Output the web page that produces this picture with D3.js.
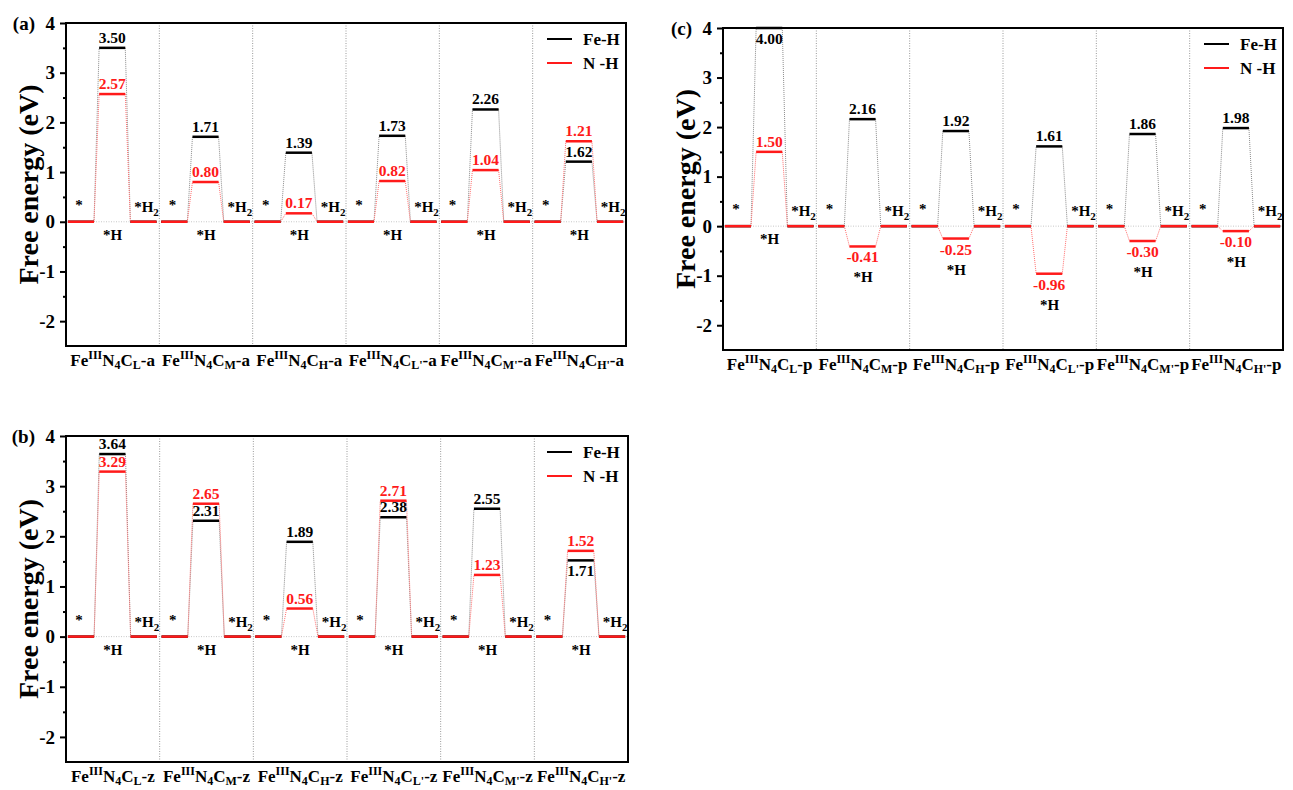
<!DOCTYPE html>
<html>
<head>
<meta charset="utf-8">
<script src="https://cdnjs.cloudflare.com/ajax/libs/d3/7.8.5/d3.min.js"></script>
<style>
  body { margin: 0; background: #fff; }
  svg { display: block; }
</style>
</head>
<body>
<div id="chart"></div>
<script>
// subscript of C in the category names, same for every panel
const sites = ["L", "M", "H", "L'", "M'", "H'"];
const yTicks = [-2, -1, 0, 1, 2, 3, 4];
const yMinorTicks = [-1.5, -0.5, 0.5, 1.5, 2.5, 3.5];

// (a) level heights as drawn, and the numbers printed over them
const feH_a = [3.50, 1.71, 1.39, 1.73, 2.26, 1.21];
const nH_a = [2.57, 0.80, 0.17, 0.82, 1.04, 1.62];
const feH_a_text = ["3.50", "1.71", "1.39", "1.73", "2.26", "1.62"];
const nH_a_text = ["2.57", "0.80", "0.17", "0.82", "1.04", "1.21"];

// (b)
const feH_b = [3.64, 2.31, 1.89, 2.38, 2.55, 1.52];
const nH_b = [3.29, 2.65, 0.56, 2.71, 1.23, 1.71];
const feH_b_text = ["3.64", "2.31", "1.89", "2.38", "2.55", "1.71"];
const nH_b_text = ["3.29", "2.65", "0.56", "2.71", "1.23", "1.52"];

// (c)
const feH_c = [4.00, 2.16, 1.92, 1.61, 1.86, 1.98];
const nH_c = [1.50, -0.41, -0.25, -0.96, -0.30, -0.10];
const feH_c_text = ["4.00", "2.16", "1.92", "1.61", "1.86", "1.98"];
const nH_c_text = ["1.50", "-0.41", "-0.25", "-0.96", "-0.30", "-0.10"];

const FONT = "'Liberation Serif', 'Times New Roman', serif";
const RED = "#ff1a1a";

class EnergyPanel {

    constructor(opts) {
        this.svg = opts.svg;
        this.box = opts.box;
        this.name = opts.name;
        this.suffix = opts.suffix;
        this.series = opts.series;
        this.update();
    }

    _setScales() {
        this.xScale = d3.scaleLinear().domain([0, sites.length]).range([this.box.left, this.box.right]);
        this.yScale = d3.scaleLinear().domain([-2.5, 4]).range([this.box.bottom, this.box.top]);

        // three states per category: *, *H, *H2 (fraction of the category width)
        this.spans = [[0.02, 0.30], [0.355, 0.635], [0.69, 0.97]];
    }

    update() {
        this._setScales();
        this.draw();
    }

    draw() {
        let x = this.xScale, y = this.yScale, b = this.box;
        this.plot = this.svg.append("g").attr("class", "panel-" + this.name);

        // zero reference and category dividers
        this.plot.append("line")
            .attr("x1", b.left).attr("x2", b.right)
            .attr("y1", y(0)).attr("y2", y(0))
            .attr("stroke", "#c8c8c8").attr("stroke-width", 1)
            .attr("stroke-dasharray", "1,1.5");

        this.plot.selectAll(".divider")
            .data(d3.range(1, sites.length))
            .enter().append("line")
            .attr("class", "divider")
            .attr("x1", d => x(d)).attr("x2", d => x(d))
            .attr("y1", b.top).attr("y2", b.bottom)
            .attr("stroke", "#9a9a9a").attr("stroke-width", 1)
            .attr("stroke-dasharray", "1,1.5");

        this.series.forEach(s => this.drawSeries(s));
        this.drawLabels();

        // frame
        this.plot.append("rect")
            .attr("x", b.left).attr("y", b.top)
            .attr("width", b.right - b.left).attr("height", b.bottom - b.top)
            .attr("fill", "none").attr("stroke", "#000").attr("stroke-width", 2);

        let yAxis = d3.axisLeft(y).tickValues(yTicks).tickSize(6).tickPadding(5)
            .tickFormat(d => d);
        let ga = this.plot.append("g")
            .attr("transform", `translate(${b.left},0)`)
            .call(yAxis);
        ga.select(".domain").remove();
        ga.selectAll("line").attr("stroke-width", 2);
        ga.selectAll("text")
            .attr("font-family", FONT).attr("font-weight", "bold").attr("font-size", 19)
            .attr("fill", "#000");

        let gm = this.plot.append("g")
            .attr("transform", `translate(${b.left},0)`)
            .call(d3.axisLeft(y).tickValues(yMinorTicks).tickSize(3).tickFormat(""));
        gm.select(".domain").remove();
        gm.selectAll("line").attr("stroke-width", 2);

        // y title and panel tag
        this.plot.append("text")
            .attr("transform", `translate(${b.left - 38},${(b.top + b.bottom) / 2}) rotate(-90)`)
            .attr("text-anchor", "middle")
            .attr("dy", "0.35em")
            .attr("font-family", FONT).attr("font-weight", "bold").attr("font-size", 28)
            .text("Free energy (eV)");

        this.plot.append("text")
            .attr("x", b.left - 31).attr("y", b.top)
            .attr("dy", "0.35em")
            .attr("text-anchor", "end")
            .attr("font-family", FONT).attr("font-weight", "bold").attr("font-size", 19)
            .text(`(${this.name})`);

        // category names
        sites.forEach((site, i) => {
            let t = this.plot.append("text")
                .attr("x", x(i + 0.5)).attr("y", b.bottom + 20)
                .attr("text-anchor", "middle")
                .attr("font-family", FONT).attr("font-weight", "bold").attr("font-size", 17);
            t.append("tspan").text("Fe");
            t.append("tspan").attr("dy", -7).attr("font-size", 12).text("III");
            t.append("tspan").attr("dy", 7).text("N");
            t.append("tspan").attr("dy", 3).attr("font-size", 12).text("4");
            t.append("tspan").attr("dy", -3).text("C");
            t.append("tspan").attr("dy", 3).attr("font-size", 12).text(site);
            t.append("tspan").attr("dy", -3).text("-" + this.suffix);
        });

        this.drawLegend();
    }

    drawSeries(s) {
        let x = this.xScale, y = this.yScale, sp = this.spans;

        s.values.forEach((v, i) => {
            let states = [0, v, 0];
            // dotted connectors between the levels
            for (let k = 0; k < 2; k++) {
                this.plot.append("line")
                    .attr("x1", x(i + sp[k][1])).attr("y1", y(states[k]))
                    .attr("x2", x(i + sp[k + 1][0])).attr("y2", y(states[k + 1]))
                    .attr("stroke", s.link).attr("stroke-width", 1)
                    .attr("stroke-dasharray", "1,1");
            }
            this.plot.selectAll(null)
                .data(states)
                .enter().append("line")
                .attr("x1", (d, k) => x(i + sp[k][0]))
                .attr("x2", (d, k) => x(i + sp[k][1]))
                .attr("y1", d => y(d)).attr("y2", d => y(d))
                .attr("stroke", s.color).attr("stroke-width", 2.5);
        });
    }

    drawLabels() {
        let x = this.xScale, y = this.yScale, b = this.box;
        let fe = this.series[0], nh = this.series[1];

        [fe, nh].forEach((s, si) => {
            let other = si === 0 ? nh : fe;
            s.values.forEach((v, i) => {
                let o = other.values[i];
                let below = v < 0 || y(v) - 16 < b.top || (o > v && y(v) - y(o) < 13);
                this.plot.append("text")
                    .attr("x", x(i + 0.495))
                    .attr("y", below ? y(v) + 16 : y(v) - 5)
                    .attr("text-anchor", "middle")
                    .attr("font-family", FONT).attr("font-weight", "bold").attr("font-size", 15.5)
                    .attr("fill", s.color)
                    .text(s.text[i]);
            });
        });

        fe.values.forEach((v, i) => {
            let low = Math.min(v, nh.values[i]);
            let hy = low < 0 ? y(low) + 36 : y(0) + 18;
            let t = this.plot.append("g")
                .attr("font-family", FONT).attr("font-weight", "bold").attr("font-size", 15);
            t.append("text").attr("x", x(i + 0.5)).attr("y", hy)
                .attr("text-anchor", "middle").text("*H");
            t.append("text").attr("x", x(i + 0.14)).attr("y", y(0) - 12)
                .attr("text-anchor", "middle").text("*");
            let h2 = t.append("text").attr("x", x(i + 0.995)).attr("y", y(0) - 10)
                .attr("text-anchor", "end");
            h2.append("tspan").text("*H");
            h2.append("tspan").attr("dy", 4).attr("font-size", 11).text("2");
        });
    }

    drawLegend() {
        let b = this.box;
        this.series.forEach((s, k) => {
            let ly = b.top + 16 + k * 24;
            this.plot.append("line")
                .attr("x1", b.left + 481).attr("x2", b.left + 506)
                .attr("y1", ly).attr("y2", ly)
                .attr("stroke", s.color).attr("stroke-width", 2);
            this.plot.append("text")
                .attr("x", b.left + 517).attr("y", ly + 6)
                .attr("font-family", FONT).attr("font-weight", "bold").attr("font-size", 17)
                .text(s.name);
        });
    }
}

const svg = d3.select("#chart").append("svg")
    .attr("width", 1293).attr("height", 790);

function seriesFor(fe, feText, nh, nhText) {
    return [
        { name: "Fe-H", values: fe, text: feText, color: "#000", link: "#8c8c8c" },
        { name: "N -H", values: nh, text: nhText, color: RED, link: "#ff7070" }
    ];
}

new EnergyPanel({
    svg: svg, name: "a", suffix: "a",
    box: { left: 66, right: 626, top: 23, bottom: 346 },
    series: seriesFor(feH_a, feH_a_text, nH_a, nH_a_text)
});

new EnergyPanel({
    svg: svg, name: "b", suffix: "z",
    box: { left: 66, right: 628, top: 436, bottom: 762 },
    series: seriesFor(feH_b, feH_b_text, nH_b, nH_b_text)
});

new EnergyPanel({
    svg: svg, name: "c", suffix: "p",
    box: { left: 723, right: 1283, top: 28, bottom: 350 },
    series: seriesFor(feH_c, feH_c_text, nH_c, nH_c_text)
});
</script>
</body>
</html>
